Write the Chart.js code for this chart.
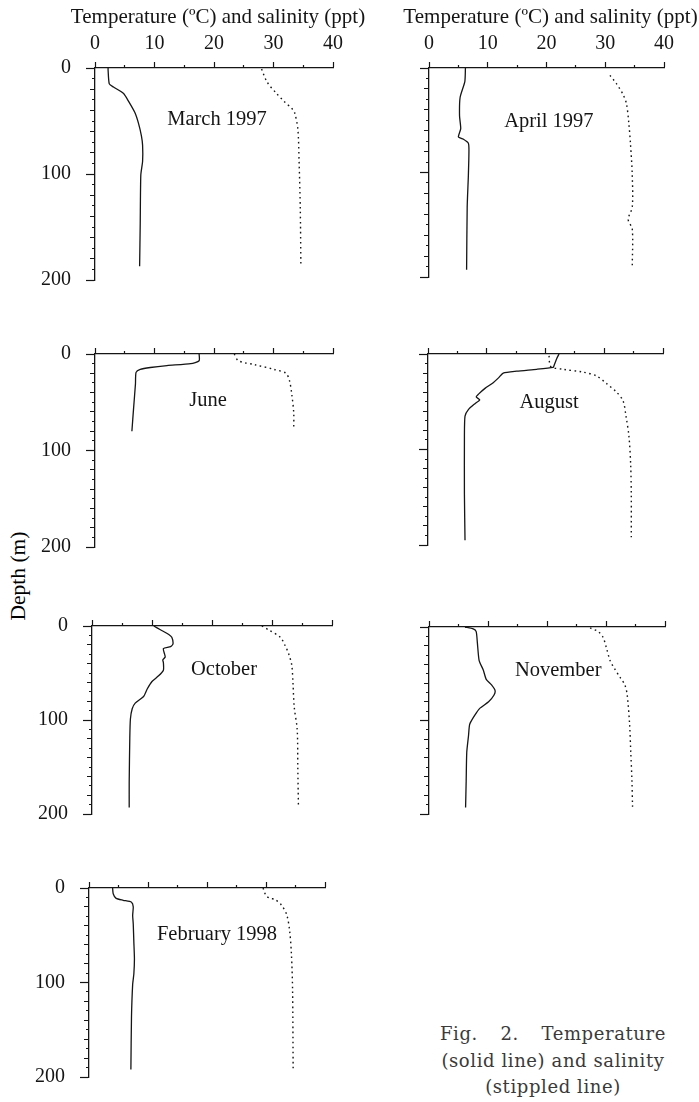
<!DOCTYPE html>
<html>
<head>
<meta charset="utf-8">
<script src="https://cdn.jsdelivr.net/npm/chart.js@4.4.1/dist/chart.umd.min.js"></script>
<style>
  html, body { margin: 0; padding: 0; background: #fff; overflow: hidden; }
  body { width: 699px; height: 1102px; position: relative; }
  canvas { position: absolute; }
  #depth {
    position: absolute; left: 18px; top: 576px;
    transform: translate(-50%, -50%) rotate(-90deg);
    font: 21.5px "Liberation Serif", serif; color: #000; white-space: nowrap;
  }
  #caption {
    position: absolute; left: 440px; top: 1021px; width: 226px;
    font: 18px "DejaVu Serif", serif; color: #3a3a3a; line-height: 26.5px;
    letter-spacing: 0.6px;
  }
  #caption div { white-space: nowrap; text-align: center; }
  #caption div.first { text-align: justify; text-align-last: justify; }
</style>
</head>
<body>
<div id="depth">Depth (m)</div>
<div id="caption">
  <div class="first">Fig. 2. Temperature</div>
  <div>(solid line) and salinity</div>
  <div>(stippled line)</div>
</div>
<script>
// depth profiles (depth in m, temperature in C, salinity in ppt)
const marchTempDepth = [0, 2, 15, 18, 24, 31, 42, 52, 64, 73, 88, 101, 147, 187];
const marchTemp      = [2.2, 2.2, 2.4, 3.1, 4.8, 5.6, 6.7, 7.3, 7.8, 8.0, 8.0, 7.7, 7.6, 7.5];
const marchSalDepth  = [1, 13, 24, 31, 39, 43, 58, 88, 132, 186];
const marchSal       = [28.0, 28.9, 30.5, 31.7, 33.2, 33.6, 34.1, 34.3, 34.5, 34.6];

const aprilTempDepth = [0, 13, 28, 46, 58, 66, 68, 72, 79, 103, 133, 193];
const aprilTemp      = [6.2, 6.1, 5.3, 5.2, 5.4, 5.0, 5.8, 6.7, 6.8, 6.7, 6.5, 6.4];
const aprilSalDepth  = [7, 15, 25, 34, 52, 73, 103, 133, 145, 154, 190];
const aprilSal       = [30.8, 31.9, 33.0, 33.6, 34.0, 34.3, 34.6, 34.6, 33.9, 34.6, 34.6];

const juneTempDepth  = [0, 7, 10, 12, 14, 16, 19, 31, 55, 80];
const juneTemp       = [17.5, 17.5, 16.1, 12.1, 9.3, 7.6, 6.9, 6.8, 6.5, 6.2];
const juneSalDepth   = [0, 7, 11, 16, 20, 28, 43, 61, 78];
const juneSal        = [23.4, 24.1, 26.8, 30.1, 32.1, 32.7, 33.1, 33.4, 33.4];

const augTempDepth   = [0, 5, 13, 14, 16, 18, 20, 25, 30, 36, 42, 45, 48, 52, 58, 65, 86, 147, 195];
const augTemp        = [22.3, 21.9, 21.4, 21.3, 18.5, 15.1, 12.8, 12.0, 11.1, 9.7, 8.6, 8.2, 8.8, 8.0, 6.9, 6.3, 6.2, 6.2, 6.3];
const augSalDepth    = [2, 13, 16, 19, 23, 31, 40, 49, 65, 86, 116, 147, 192];
const augSal         = [20.6, 20.9, 23.0, 26.4, 28.7, 30.4, 32.1, 33.2, 33.7, 34.2, 34.5, 34.6, 34.6];

const octTempDepth   = [0, 4, 9, 12, 19, 22, 24, 30, 33, 36, 39, 47, 53, 59, 67, 75, 82, 88, 99, 119, 166, 193];
const octTemp        = [10.3, 11.4, 12.8, 13.3, 13.5, 13.1, 11.9, 12.1, 12.2, 11.8, 11.9, 11.9, 11.1, 10.0, 9.2, 8.6, 7.2, 6.7, 6.4, 6.3, 6.2, 6.2];
const octSalDepth    = [0, 4, 12, 21, 30, 42, 61, 86, 110, 150, 190];
const octSal         = [28.3, 29.4, 31.4, 32.2, 32.8, 33.3, 33.5, 33.7, 34.2, 34.3, 34.4];

const novTempDepth   = [0, 2, 5, 17, 36, 46, 56, 62, 68, 73, 80, 87, 94, 104, 116, 134, 165, 193];
const novTemp        = [6.1, 7.5, 8.0, 8.2, 8.5, 9.2, 9.7, 10.6, 11.2, 11.0, 10.1, 8.6, 7.8, 6.9, 6.7, 6.4, 6.3, 6.2];
const novSalDepth    = [1, 5, 11, 23, 36, 45, 54, 62, 73, 104, 134, 165, 193];
const novSal         = [27.3, 28.7, 29.5, 30.1, 30.7, 31.5, 32.4, 33.2, 33.6, 34.0, 34.2, 34.4, 34.5];

const febTempDepth   = [0, 6, 11, 13, 15, 20, 29, 38, 57, 75, 91, 102, 137, 192];
const febTemp        = [4.0, 4.1, 4.6, 5.8, 7.2, 7.5, 7.4, 7.5, 7.6, 7.7, 7.6, 7.4, 7.2, 7.1];
const febSalDepth    = [0, 8, 11, 12, 18, 28, 45, 69, 106, 191];
const febSal         = [29.5, 30.0, 30.7, 31.5, 32.6, 33.5, 34.0, 34.3, 34.5, 34.6];

const xTickLabels = [0, 10, 20, 30, 40];
const yTickLabels = [0, 100, 200];
const axisTitle = 'Temperature (ºC) and salinity (ppt)';

const INK = '#151515';
const SERIF = '"Liberation Serif", "Times New Roman", serif';

// plot box in page pixels: x0, x40, depth0, depth200
const panels = [
  { name: 'March 1997',    t: [marchTempDepth, marchTemp], s: [marchSalDepth, marchSal], box: [95, 333, 68, 293],   top: true,  left: true,  at: [20.5, 49] },
  { name: 'April 1997',    t: [aprilTempDepth, aprilTemp], s: [aprilSalDepth, aprilSal], box: [429, 664, 68, 290],  top: true,  left: false, at: [20.4, 51] },
  { name: 'June',          t: [juneTempDepth, juneTemp],   s: [juneSalDepth, juneSal],   box: [95, 333, 339, 560],  top: false, left: true,  at: [19.0, 48] },
  { name: 'August',        t: [augTempDepth, augTemp],     s: [augSalDepth, augSal],     box: [428, 663, 339, 558], top: false, left: false, at: [20.6, 51] },
  { name: 'October',       t: [octTempDepth, octTemp],     s: [octSalDepth, octSal],     box: [92, 332, 611, 827],  top: false, left: true,  at: [22.0, 46] },
  { name: 'November',      t: [novTempDepth, novTemp],     s: [novSalDepth, novSal],     box: [429, 665, 612, 827], top: false, left: false, at: [21.9, 47] },
  { name: 'February 1998', t: [febTempDepth, febTemp],     s: [febSalDepth, febSal],     box: [89, 325, 873, 1090], top: false, left: true,  at: [21.7, 49] }
];

function toPoints(depths, values) {
  return depths.map((d, i) => ({ x: values[i], y: d }));
}

// month name inside the panel (data units) and the axis title above the top row
// (the built-in scale title gets squeezed to the axis width, this one is allowed to overhang)
const panelText = {
  id: 'panelText',
  afterDraw(chart, args, opts) {
    const { ctx, scales, chartArea } = chart;
    ctx.save();
    ctx.fillStyle = INK;
    ctx.textAlign = 'center';
    ctx.textBaseline = 'middle';
    ctx.font = '20.5px ' + SERIF;
    ctx.fillText(opts.text, scales.x.getPixelForValue(opts.at[0]), scales.y.getPixelForValue(opts.at[1]));
    if (opts.title) {
      ctx.font = '21px ' + SERIF;
      ctx.fillText(opts.title, (chartArea.left + chartArea.right) / 2 + 4, chartArea.top - 51);
    }
    ctx.restore();
  }
};

panels.forEach(p => {
  const [x0, x40, d0, d200] = p.box;
  const ML = p.left ? x0 : 32;
  const MT = p.top ? d0 : 12;
  const MR = p.top ? 35 : 10;
  const MB = 14;
  const canvas = document.createElement('canvas');
  canvas.width = (x40 - x0) + ML + MR;
  canvas.height = (d200 - d0) + MT + MB;
  canvas.style.left = (x0 - ML) + 'px';
  canvas.style.top = (d0 - MT) + 'px';
  canvas.style.width = canvas.width + 'px';
  canvas.style.height = canvas.height + 'px';
  document.body.appendChild(canvas);

  new Chart(canvas, {
    type: 'scatter',
    data: {
      datasets: [
        {
          label: 'Temperature',
          data: toPoints(p.t[0], p.t[1]),
          showLine: true,
          borderColor: INK,
          borderWidth: 1.3,
          pointRadius: 0,
          tension: 0.2
        },
        {
          label: 'Salinity',
          data: toPoints(p.s[0], p.s[1]),
          showLine: true,
          borderColor: INK,
          borderWidth: 1.4,
          borderDash: [1.6, 3.4],
          pointRadius: 0,
          tension: 0.3
        }
      ]
    },
    options: {
      responsive: false,
      animation: false,
      devicePixelRatio: 1,
      layout: { padding: { left: 0, top: 0, right: MR, bottom: MB } },
      plugins: {
        legend: { display: false },
        tooltip: { enabled: false },
        panelText: { text: p.name, at: p.at, title: p.top ? axisTitle : '' }
      },
      scales: {
        x: {
          type: 'linear',
          position: 'top',
          min: 0,
          max: 40,
          afterFit(s) { s.height = MT; },
          border: { color: INK, width: 1.3 },
          grid: {
            drawOnChartArea: false,
            drawTicks: true,
            tickLength: 6,
            tickColor: INK,
            tickWidth: 1.2,
            // short ticks at the 5s, drawn only next to the axis
            tickBorderDash: ctx => (ctx.tick && ctx.tick.value % 10 !== 0) ? [0, 3, 3, 100] : []
          },
          ticks: {
            stepSize: 5,
            autoSkip: false,
            maxRotation: 0,
            padding: 6,
            color: INK,
            font: { family: SERIF, size: 20 },
            callback: v => (p.top && xTickLabels.includes(v)) ? String(v) : ''
          }
        },
        y: {
          type: 'linear',
          reverse: true,
          min: 0,
          max: 200,
          afterFit(s) { s.width = ML; },
          border: { color: INK, width: 1.3 },
          grid: {
            drawOnChartArea: false,
            drawTicks: true,
            tickLength: 9,
            tickColor: INK,
            tickWidth: 1.2,
            tickBorderDash: ctx => {
              const v = ctx.tick ? ctx.tick.value : 0;
              if (v % 100 === 0) return [];
              if (v % 20 === 0) return [0, 4, 5, 100];
              return [0, 6, 3, 100];
            }
          },
          ticks: {
            stepSize: 10,
            autoSkip: false,
            padding: 15,
            color: INK,
            font: { family: SERIF, size: 20 },
            callback: v => (p.left && yTickLabels.includes(v)) ? String(v) : ''
          }
        }
      }
    },
    plugins: [panelText]
  });
});
</script>
</body>
</html>
